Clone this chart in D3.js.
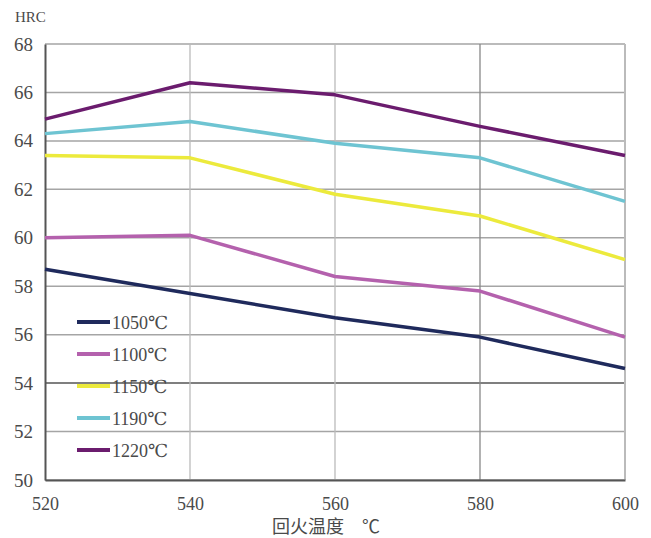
<!DOCTYPE html>
<html>
<head>
<meta charset="utf-8">
<script src="https://cdn.jsdelivr.net/npm/d3@7"></script>
<style>
  body { margin: 0; background: #fff; }
  text { font-family: "Liberation Serif", "DejaVu Serif", serif; fill: #4a4a4a; }
</style>
</head>
<body>
<svg width="651" height="538"></svg>
<script>
    // temper temperature (x) and hardness per quench temperature
    var temps = [520, 540, 560, 580, 600];
    var series = ["1050℃", "1100℃", "1150℃", "1190℃", "1220℃"];
    var hrc1050 = [58.7, 57.7, 56.7, 55.9, 54.6];
    var hrc1100 = [60.0, 60.1, 58.4, 57.8, 55.9];
    var hrc1150 = [63.4, 63.3, 61.8, 60.9, 59.1];
    var hrc1190 = [64.3, 64.8, 63.9, 63.3, 61.5];
    var hrc1220 = [64.9, 66.4, 65.9, 64.6, 63.4];
    var yTicks = [50, 52, 54, 56, 58, 60, 62, 64, 66, 68];
    var colors = ["#1f2a5c", "#b461ad", "#ecea3c", "#6ec4d2", "#6b1c6e"];

    var values = [hrc1050, hrc1100, hrc1150, hrc1190, hrc1220];

    var svg = d3.select("svg");
    var m = { left: 45, right: 625, top: 44, bottom: 480 };

    var x = d3.scaleLinear().domain([520, 600]).range([m.left, m.right]);
    var y = d3.scaleLinear().domain([50, 68]).range([m.bottom, m.top]);

    // horizontal grid
    svg.append("g").selectAll("line")
        .data(yTicks)
        .enter().append("line")
        .attr("x1", m.left).attr("x2", m.right)
        .attr("y1", function(d) { return y(d); })
        .attr("y2", function(d) { return y(d); })
        .attr("stroke", function(d) { return d == 54 ? "#555" : "#a5a5a5"; })
        .attr("stroke-width", 1.5);

    // vertical grid
    svg.append("g").selectAll("line")
        .data(temps.slice(1))
        .enter().append("line")
        .attr("x1", function(d) { return x(d); })
        .attr("x2", function(d) { return x(d); })
        .attr("y1", m.top).attr("y2", m.bottom)
        .attr("stroke", function(d) { return d == 580 ? "#888" : "#bbb"; })
        .attr("stroke-width", function(d) { return d == 600 ? 2 : 1.3; });

    // axes
    var yAxis = svg.append("g")
        .attr("transform", "translate(" + m.left + ",0)")
        .call(d3.axisLeft(y).tickValues(yTicks).tickSize(0).tickPadding(12));
    yAxis.select(".domain").attr("stroke", "#555").attr("stroke-width", 2);
    yAxis.selectAll("text")
        .style("font-size", "19px")
        .style("font-family", "'Liberation Serif', serif")
        .attr("fill", "#4a4a4a");

    var xAxis = svg.append("g")
        .attr("transform", "translate(0," + m.bottom + ")")
        .call(d3.axisBottom(x).tickValues(temps).tickSize(0).tickPadding(17));
    xAxis.select(".domain").attr("stroke", "#555").attr("stroke-width", 2);
    xAxis.selectAll("text")
        .style("font-size", "18px")
        .style("font-family", "'Liberation Serif', serif")
        .attr("fill", "#4a4a4a");

    // lines
    var line = d3.line()
        .x(function(d, i) { return x(temps[i]); })
        .y(function(d) { return y(d); });

    svg.append("g").selectAll("path")
        .data(values)
        .enter().append("path")
        .attr("d", line)
        .attr("fill", "none")
        .attr("stroke", function(d, i) { return colors[i]; })
        .attr("stroke-width", 3.5)
        .attr("stroke-linejoin", "round");

    // legend
    var legend = svg.append("g").attr("transform", "translate(77,322)");
    var item = legend.selectAll("g")
        .data(series)
        .enter().append("g")
        .attr("transform", function(d, i) { return "translate(0," + (i * 32) + ")"; });
    item.append("line")
        .attr("x1", 0).attr("x2", 33)
        .attr("stroke", function(d, i) { return colors[i]; })
        .attr("stroke-width", 4);
    item.append("text")
        .attr("x", 35).attr("y", 7)
        .style("font-size", "18px")
        .text(function(d) { return d; });

    // titles
    svg.append("text")
        .attr("x", 15).attr("y", 22)
        .style("font-size", "15px")
        .text("HRC");
    svg.append("text")
        .attr("x", 272).attr("y", 533)
        .style("font-size", "18px")
        .style("font-family", "'Noto Sans CJK SC', sans-serif")
        .text("回火温度");
    svg.append("text")
        .attr("x", 362).attr("y", 533)
        .style("font-size", "18px")
        .style("font-family", "'Noto Sans CJK SC', sans-serif")
        .text("℃");
</script>
</body>
</html>
